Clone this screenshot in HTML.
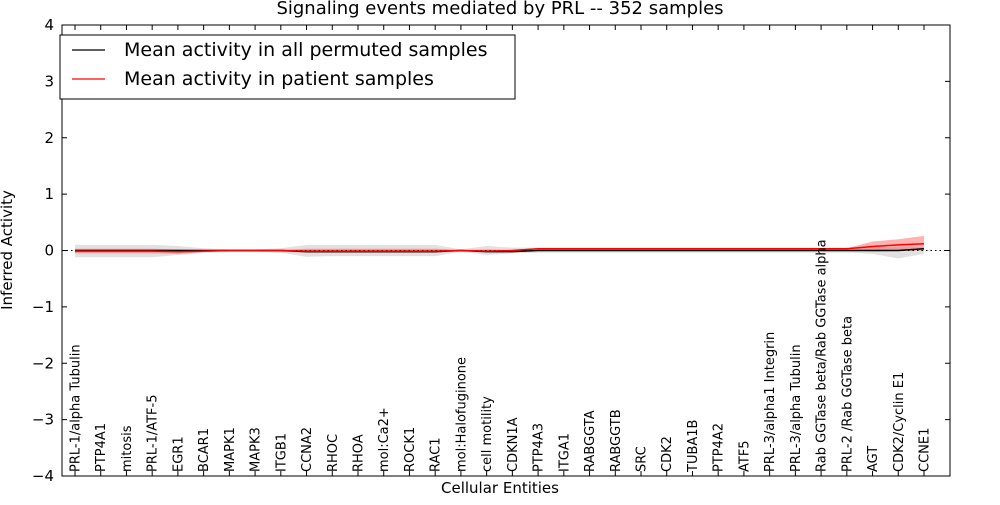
<!DOCTYPE html>
<html><head><meta charset="utf-8"><style>
body{margin:0;background:#fff;font-family:"Liberation Sans","DejaVu Sans",sans-serif}
</style></head><body>
<svg id="c" width="1000" height="500" xmlns="http://www.w3.org/2000/svg" font-family="DejaVu Sans, Liberation Sans, sans-serif"></svg>
<script>
const categories=["PRL-1/alpha Tubulin","PTP4A1","mitosis","PRL-1/ATF-5","EGR1","BCAR1","MAPK1","MAPK3","ITGB1","CCNA2","RHOC","RHOA","mol:Ca2+","ROCK1","RAC1","mol:Halofuginone","cell motility","CDKN1A","PTP4A3","ITGA1","RABGGTA","RABGGTB","SRC","CDK2","TUBA1B","PTP4A2","ATF5","PRL-3/alpha1 Integrin","PRL-3/alpha Tubulin","Rab GGTase beta/Rab GGTase alpha","PRL-2 /Rab GGTase beta","AGT","CDK2/Cyclin E1","CCNE1"];
const patientMean=[-0.01,-0.01,-0.01,-0.01,-0.02,-0.01,0,0,0,-0.01,-0.01,-0.01,-0.01,-0.01,-0.01,0,-0.01,0,0.03,0.03,0.03,0.03,0.03,0.03,0.03,0.03,0.03,0.03,0.03,0.03,0.03,0.07,0.1,0.12];
const patientLo=[-0.05,-0.05,-0.05,-0.05,-0.06,-0.03,-0.01,-0.01,-0.02,-0.04,-0.04,-0.04,-0.04,-0.04,-0.04,-0.01,-0.03,-0.01,0.02,0.02,0.02,0.02,0.02,0.02,0.02,0.02,0.02,0.02,0.02,0.02,0.02,-0.02,0.0,0.0];
const patientHi=[0.03,0.03,0.03,0.03,0.02,0.01,0.01,0.01,0.01,0.03,0.03,0.03,0.03,0.03,0.03,0.01,0.02,0.01,0.04,0.04,0.04,0.04,0.04,0.04,0.04,0.04,0.04,0.04,0.04,0.04,0.04,0.16,0.2,0.26];
const permMean=[0,0,0,0,0,0,0,0,0,-0.02,-0.02,-0.02,-0.02,-0.02,-0.02,0,-0.02,-0.02,0,0,0,0,0,0,0,0,0,0,0,0,0,0,0,0.03];
const permLo=[-0.12,-0.12,-0.12,-0.12,-0.08,-0.04,-0.02,-0.02,-0.04,-0.11,-0.1,-0.1,-0.1,-0.1,-0.1,-0.02,-0.08,-0.05,-0.04,-0.04,-0.04,-0.04,-0.04,-0.04,-0.04,-0.04,-0.04,-0.04,-0.04,-0.04,-0.04,-0.06,-0.14,-0.06];
const permHi=[0.1,0.1,0.1,0.1,0.08,0.04,0.02,0.02,0.04,0.1,0.1,0.1,0.1,0.1,0.1,0.02,0.08,0.05,0.05,0.05,0.05,0.05,0.05,0.05,0.05,0.05,0.05,0.05,0.05,0.05,0.05,0.06,0.06,0.06];
const yTicks=[4,3,2,1,0,-1,-2,-3,-4];
const yTickLabels=["4","3","2","1","0","\u22121","\u22122","\u22123","\u22124"];
const svg=document.getElementById('c');
const NS='http://www.w3.org/2000/svg';
const L=62,R=950,T=25,B=476;
const x0=75,x1=924;
function X(i){return x0+(x1-x0)*i/(categories.length-1);}
function Y(v){return T+(4-v)*(B-T)/8;}
function mk(t,a){const e=document.createElementNS(NS,t);for(const k in a)e.setAttribute(k,a[k]);svg.appendChild(e);return e;}
function band(lo,hi,fill,op,name){let d='M'+lo.map((v,i)=>X(i)+','+Y(v)).join('L');for(let i=hi.length-1;i>=0;i--)d+='L'+X(i)+','+Y(hi[i]);d+='Z';
const e=mk('path',{d:d,fill:fill,'fill-opacity':op,stroke:'none'});

}
function line(vals,color,name){const e=mk('path',{d:'M'+vals.map((v,i)=>X(i)+','+Y(v)).join('L'),fill:'none',stroke:color,'stroke-width':1.5});

}
band(permLo,permHi,'#aaaaaa',0.35,'permuted-band');
band(patientLo,patientHi,'#ff0000',0.3,'patient-band');
const zl=mk('line',{x1:L,x2:R,y1:Y(0),y2:Y(0),stroke:'#000','stroke-dasharray':'1.5,3','stroke-width':1});


line(permMean,'#000','permuted-mean-line');
line(patientMean,'#ff0000','patient-mean-line');
const fr=mk('rect',{x:L,y:T,width:R-L,height:B-T,fill:'none',stroke:'#000','stroke-width':1});


yTicks.forEach((v,i)=>{const y=Y(v);
mk('line',{x1:L,x2:L+5,y1:y,y2:y,stroke:'#000'});mk('line',{x1:R-5,x2:R,y1:y,y2:y,stroke:'#000'});
const t=mk('text',{x:L-8,y:y+5,'text-anchor':'end','font-size':15});t.textContent=yTickLabels[i];

});
categories.forEach((c,i)=>{const x=X(i);
mk('line',{x1:x,x2:x,y1:B,y2:B-5,stroke:'#000'});mk('line',{x1:x,x2:x,y1:T,y2:T+5,stroke:'#000'});
const t=mk('text',{x:0,y:0,transform:`translate(${x+4.5},472) rotate(-90)`,'font-size':13});t.textContent=c;

});
const ti=mk('text',{x:500,y:14,'text-anchor':'middle','font-size':18});ti.textContent='Signaling events mediated by PRL -- 352 samples';


const xt=mk('text',{x:500,y:493,'text-anchor':'middle','font-size':15});xt.textContent='Cellular Entities';


const yt=mk('text',{x:0,y:0,transform:'translate(12,250) rotate(-90)','text-anchor':'middle','font-size':15});yt.textContent='Inferred Activity';


const lg=mk('rect',{x:60,y:35,width:455,height:64,fill:'#fff',stroke:'#000'});


[['#000','Mean activity in all permuted samples',50],['#ff0000','Mean activity in patient samples',79]].forEach(a=>{
mk('line',{x1:72,x2:105,y1:a[2],y2:a[2],stroke:a[0],'stroke-width':1.3});
const t=mk('text',{x:124,y:a[2]+6,'font-size':19});t.textContent=a[1];

});
</script>
</body></html>
